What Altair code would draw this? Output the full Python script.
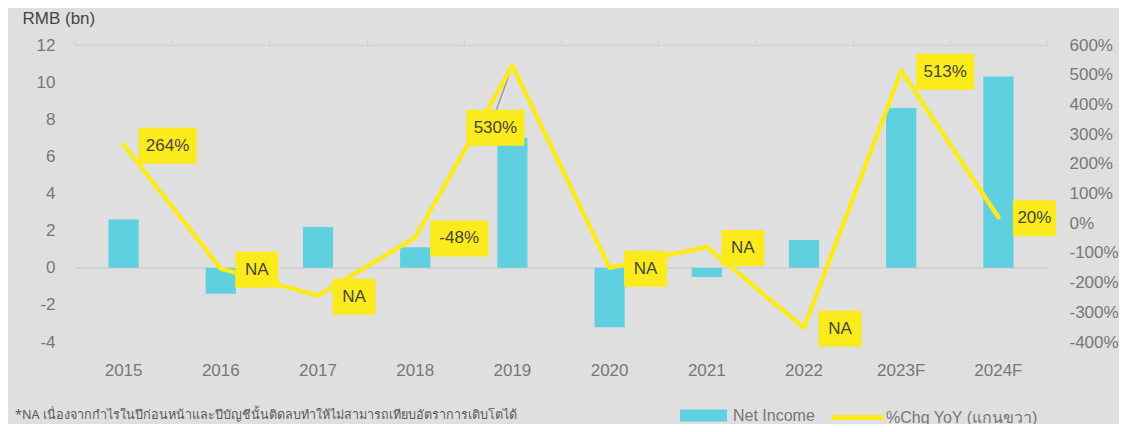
import altair as alt
import pandas as pd

years = ["2015", "2016", "2017", "2018", "2019", "2020", "2021", "2022", "2023F", "2024F"]
net_income = [2.6, -1.4, 2.2, 1.1, 7.0, -3.2, -0.5, 1.5, 8.6, 10.3]
pct_chg = [264, -153, -244, -48, 530, -150, -80, -352, 513, 20]
pct_labels = ["264%", "NA", "NA", "-48%", "530%", "NA", "NA", "NA", "513%", "20%"]
series_names = ["Net Income", "%Chg YoY (แกนขวา)"]
left_ticks = [-4, -2, 0, 2, 4, 6, 8, 10, 12]
right_ticks = [-400, -300, -200, -100, 0, 100, 200, 300, 400, 500, 600]
footnote = "*NA เนื่องจากกำไรในปีก่อนหน้าและปีบัญชีนั้นติดลบทำให้ไม่สามารถเทียบอัตราการเติบโตได้"

df = pd.DataFrame({"year": years, "ni": net_income, "pct": pct_chg, "lab": pct_labels})
df["s_bar"] = series_names[0]
df["s_line"] = series_names[1]

FONT = "Liberation Sans"
BG = "#dfdfdf"
CYAN = "#5ed0df"
YELLOW = "#fbea1c"
AXIS_TXT = "#777777"
DARK = "#454545"
LINEGRAY = "#d2d2d2"

xscale = alt.Scale(type="band", domain=years, paddingInner=0.69, paddingOuter=0.345)
xscale_full = alt.Scale(type="band", domain=years, paddingInner=0, paddingOuter=0)
left_scale = alt.Scale(domain=[-4, 12], nice=False, zero=False)

x_bottom = alt.X("year:N", sort=years, scale=xscale,
                 axis=alt.Axis(orient="bottom", title=None, labelAngle=0, domain=False, ticks=False,
                               grid=False, labelFontSize=17, labelColor=AXIS_TXT, labelFont=FONT,
                               labelPadding=20))
x_none = alt.X("year:N", sort=years, scale=xscale, axis=None)

y_left = alt.Y("ni:Q", scale=left_scale,
               axis=alt.Axis(orient="left", values=left_ticks, labelExpr="'' + datum.value",
                             labelOverlap=False, labelFlush=False, labelBound=False,
                             domain=False, ticks=False, grid=False,
                             labelFontSize=17, labelColor=AXIS_TXT, labelFont=FONT, labelPadding=20,
                             title="RMB (bn)", titleAngle=0, titleX=-53, titleY=-27, titleAlign="left",
                             titleBaseline="middle", titleFontSize=17, titleFontWeight="normal",
                             titleColor=DARK, titleFont=FONT))

y_right = alt.Y("pct:Q", scale=alt.Scale(domain=[-400, 600], nice=False, zero=False),
                axis=alt.Axis(orient="right", values=right_ticks, labelExpr="datum.value + '%'",
                              labelOverlap=False, labelFlush=False,
                              domain=False, ticks=False, grid=False, labelFontSize=17,
                              labelColor=AXIS_TXT, labelFont=FONT, labelPadding=22, title=None))

base = alt.Chart(df)

zero = base.mark_rule(color=LINEGRAY, strokeWidth=1.5).encode(
    y=alt.YDatum(0, scale=left_scale, axis=None))

bars = base.mark_bar().encode(
    x=x_bottom, y=y_left,
    fill=alt.Fill("s_bar:N", scale=alt.Scale(domain=[series_names[0]], range=[CYAN]),
                  legend=alt.Legend(orient="none", legendX=605, legendY=347, title=None,
                                    symbolType="M-1,-0.26H1V0.26H-1Z", symbolSize=2209,
                                    symbolStrokeWidth=0, labelFontSize=16, labelColor=AXIS_TXT,
                                    labelFont=FONT, labelOffset=6)),
)

topaxis = base.mark_point(opacity=0).encode(
    x=alt.X("year:N", sort=years, scale=xscale_full,
            axis=alt.Axis(orient="top", title=None, labels=False, domain=True, domainColor=LINEGRAY,
                          domainWidth=1.5, ticks=True, tickColor=LINEGRAY, tickWidth=1.5, tickSize=5,
                          tickBand="extent", grid=False)),
    y=alt.Y("ni:Q", axis=None),
)

note = alt.Chart(pd.DataFrame({"t": [footnote]})).mark_text(
    align="left", baseline="middle", fontSize=12.6, color="#5a5a5a", font="Noto Sans"
).encode(text="t:N", x=alt.value(-60), y=alt.value(370))

LONG = "M-0.967,-0.6H0.967V0.6H-0.967Z"
SHORT = "M-0.717,-0.6H0.717V0.6H-0.717Z"

leader = base.mark_rule(color="#9a9a9a", strokeWidth=1.5, x2Offset=-16, y2Offset=44).encode(
    x=x_none, x2=alt.X2("year:N"), y=y_right, y2=alt.Y2("pct:Q")
).transform_filter("datum.year == '2019'")

line = base.mark_line(strokeWidth=4.5, strokeCap="round", strokeJoin="round").encode(
    x=x_none, y=y_right,
    stroke=alt.Stroke("s_line:N", scale=alt.Scale(domain=[series_names[1]], range=[YELLOW]),
                      legend=alt.Legend(orient="none", legendX=754, legendY=344, title=None,
                                        symbolType="stroke", symbolSize=2704, symbolStrokeWidth=5,
                                        labelFontSize=16, labelColor=AXIS_TXT, labelFont=FONT,
                                        labelOffset=0)),
)

long_f = "length(datum.lab) == 4 && datum.year != '2019'"
short_f = "length(datum.lab) < 4"
special_f = "datum.year == '2019'"

box_long = base.mark_point(shape=LONG, filled=True, size=3600, color=YELLOW, opacity=1,
                           strokeWidth=0, xOffset=44, yOffset=1).encode(
    x=x_none, y=y_right).transform_filter(long_f)
box_short = base.mark_point(shape=SHORT, filled=True, size=3600, color=YELLOW, opacity=1,
                            strokeWidth=0, xOffset=36, yOffset=1).encode(
    x=x_none, y=y_right).transform_filter(short_f)
box_sp = base.mark_point(shape=LONG, filled=True, size=3600, color=YELLOW, opacity=1,
                         strokeWidth=0, xOffset=-17, yOffset=62).encode(
    x=x_none, y=y_right).transform_filter(special_f)

txt_kw = dict(fontSize=17, color=DARK, font=FONT, align="center", baseline="middle")
t_long = base.mark_text(dx=44, dy=1, **txt_kw).encode(x=x_none, y=y_right, text="lab:N").transform_filter(long_f)
t_short = base.mark_text(dx=36, dy=1, **txt_kw).encode(x=x_none, y=y_right, text="lab:N").transform_filter(short_f)
t_sp = base.mark_text(dx=-17, dy=62, **txt_kw).encode(x=x_none, y=y_right, text="lab:N").transform_filter(special_f)

right = alt.layer(leader, line, box_long, box_short, box_sp, t_long, t_short, t_sp)

chart = alt.layer(zero, bars, topaxis, note, right).resolve_scale(
    x="independent", y="independent", fill="independent", stroke="independent"
).resolve_axis(x="independent").properties(
    width=972, height=297,
    padding={"left": 67, "top": 37, "right": 72, "bottom": 82},
    autosize=alt.AutoSizeParams(type="none"),
    background=BG,
).configure_view(stroke=None).configure_axis(labelOverlap=False)

chart.save("out.html", embed_options={"renderer": "svg", "actions": False})
